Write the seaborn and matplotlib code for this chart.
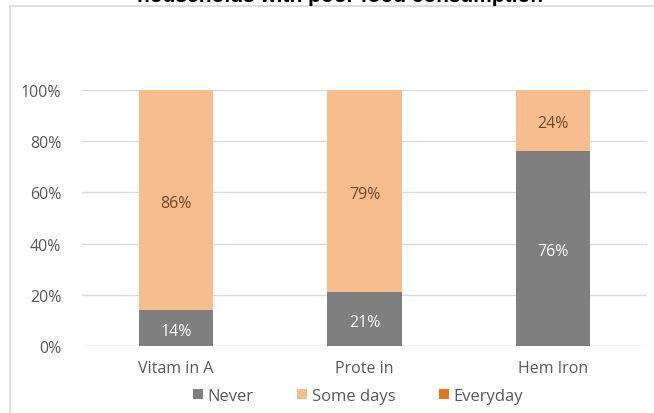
import matplotlib
matplotlib.use("Agg")
import matplotlib.pyplot as plt
from matplotlib.patches import Rectangle, Patch
import seaborn as sns
import pandas as pd

categories = ["Vitam in A", "Prote in", "Hem Iron"]
never = [14, 21, 76]
some_days = [86, 79, 24]
everyday = [0, 0, 0]
series_names = ["Never", "Some days", "Everyday"]
y_ticks = [0, 20, 40, 60, 80, 100]

c_never = "#7f7f7f"
c_some = "#f8bd8c"
c_every = "#e2761f"
txt = "#595959"

sns.set_theme(style="white")
plt.rcParams["font.family"] = ["Open Sans", "DejaVu Sans"]

fig = plt.figure(figsize=(6.54, 4.14), dpi=100)
fig.patch.set_facecolor("white")

# chart frame
fig.patches.append(Rectangle((10 / 654, -0.1), 2.0, (414 - 7) / 414 + 0.1,
                             transform=fig.transFigure, fill=False,
                             edgecolor="#d9d9d9", lw=1.2, zorder=0))

ax = fig.add_axes([82 / 654, 1 - 347 / 414, (647 - 82) / 654, (347 - 91) / 414])

df = pd.DataFrame({
    "cat": categories,
    "never": never,
    "some": some_days,
    "every": everyday,
})
df["top"] = df["never"] + df["some"] + df["every"]
df["mid"] = df["never"] + df["some"]

bar_kw = dict(saturation=1, width=0.395, ax=ax, linewidth=0, edgecolor="none")
sns.barplot(data=df, x="cat", y="top", color=c_every, zorder=2, **bar_kw)
sns.barplot(data=df, x="cat", y="mid", color=c_some, zorder=3, **bar_kw)
sns.barplot(data=df, x="cat", y="never", color=c_never, zorder=4, **bar_kw)

for i, (n, s) in enumerate(zip(never, some_days)):
    ax.text(i, n / 2 - 1, f"{n}%", ha="center", va="center", color="white", fontsize=11.5, zorder=5)
    ax.text(i, n + s / 2 - 1, f"{s}%", ha="center", va="center", color="#6e4a2c", fontsize=11.5, zorder=5)

ax.set_ylim(0, 100)
ax.set_xlim(-0.5, 2.5)
ax.set_yticks(y_ticks)
ax.set_yticklabels([f"{t}%" for t in y_ticks])
ax.yaxis.grid(True, color="#d9d9d9", lw=1)
ax.set_axisbelow(True)
for sp in ax.spines.values():
    sp.set_visible(False)
ax.tick_params(axis="y", length=0, pad=15, labelsize=11.5, labelcolor=txt)
ax.tick_params(axis="x", length=0, pad=10, labelsize=11.5, labelcolor=txt)
ax.set_xlabel("")
ax.set_ylabel("")

handles = [Patch(facecolor=c, edgecolor="none") for c in (c_never, c_some, c_every)]
fig.legend(handles, series_names, loc="center", bbox_to_anchor=(358 / 654, 1 - 397 / 414),
           ncol=3, frameon=False, fontsize=12, labelcolor=txt, handlelength=0.6,
           handleheight=0.6, handletextpad=0.3, columnspacing=2.6)

fig.text(340 / 654, 1 - (-4) / 414, "households with poor food consumption", ha="center",
         va="center", fontsize=15, fontweight="bold", color="black",
         family=["Liberation Sans", "DejaVu Sans"])

fig.savefig("out.png", dpi=100)
